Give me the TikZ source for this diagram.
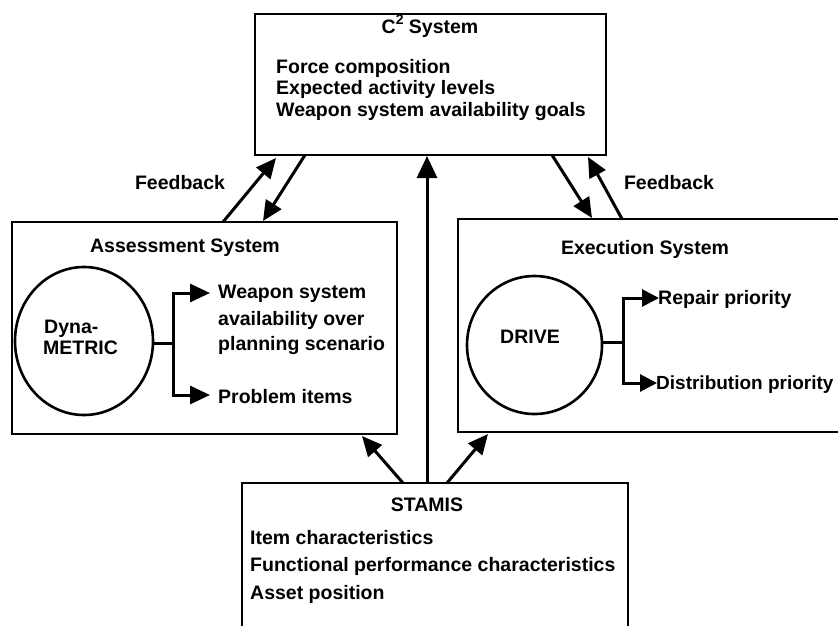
\documentclass[tikz,border=0pt]{standalone}
\usepackage{fontspec}
\setmainfont{Liberation Sans}
\usetikzlibrary{arrows.meta,shapes.geometric}
\begin{document}
\begin{tikzpicture}[x=1pt,y=-1pt,
  boxst/.style={draw, line width=2.6pt, inner sep=0pt},
  circst/.style={draw, ellipse, line width=2.6pt, inner sep=0pt},
  txt/.style={inner sep=0pt, font=\fontsize{19.5}{22}\selectfont\bfseries},
  lt/.style={txt, anchor=base west},
  ct/.style={txt, anchor=base},
  ln/.style={line width=3pt},
  arr/.style={line width=3pt, -{Triangle[length=20pt,width=18pt]}},
  sarr/.style={line width=3pt, -{Triangle[length=17pt,width=17pt]}},
  barr/.style={line width=3pt, -{Triangle[length=22pt,width=20pt]}}
]
\fill[white] (0,0) rectangle (838,625);
\useasboundingbox (0,0) rectangle (838,625);

% boxes
\node[boxst, minimum width=351pt, minimum height=141pt] (c2) at (430.5,84.5) {};
\node[boxst, minimum width=385pt, minimum height=212pt] (asmt) at (204.5,328) {};
\node[boxst, minimum width=392pt, minimum height=213pt] (exec) at (654,325.5) {};
\node[boxst, minimum width=386pt, minimum height=160pt] (stamis) at (435,563) {};

% C2 texts
\node[ct] (c2t) at (430,33) {C\raisebox{0.45em}{\fontsize{14}{14}\selectfont 2} System};
\node[lt] (c2a) at (276,73) {Force composition};
\node[lt] (c2b) at (276,94) {Expected activity levels};
\node[lt] (c2c) at (276,116) {Weapon system availability goals};

% feedback labels
\node[ct] (fbl) at (180,189) {Feedback};
\node[ct] (fbr) at (669,189) {Feedback};

% Assessment system
\node[ct] (asmtt) at (185,252) {Assessment System};
\node[circst, minimum width=138pt, minimum height=148pt] (dyna) at (84,341) {};
\node[lt] (dyna1) at (44,333) {Dyna-};
\node[lt] (dyna2) at (43,354) {METRIC};
\node[lt] (wsa1) at (218,298) {Weapon system};
\node[lt] (wsa2) at (218,325) {availability over};
\node[lt] (wsa3) at (218,350) {planning scenario};
\node[lt] (prob) at (218,403) {Problem items};
\coordinate (dj) at (173,343);
\coordinate (wtip) at (210,293);
\coordinate (ptip) at (210,395);
\draw[ln] (dyna.east |- dj) -- (dj);
\draw[arr] (dj) |- (wtip);
\draw[arr] (dj) |- (ptip);

% Execution system
\node[ct] (exect) at (645,254) {Execution System};
\node[circst, minimum width=135pt, minimum height=138pt] (drive) at (534.5,345) {};
\node[ct] (drivet) at (530,343) {DRIVE};
\node[lt] (rep) at (658,304) {Repair priority};
\node[lt, font=\fontsize{19}{22}\selectfont\bfseries] (dist) at (656,389) {Distribution priority};
\coordinate (ej) at (623,342);
\coordinate (rtip) at (659,298);
\coordinate (dtip) at (657,383);
\draw[ln] (drive.east |- ej) -- (ej);
\draw[sarr] (ej) |- (rtip);
\draw[sarr] (ej) |- (dtip);

% STAMIS
\node[ct] (stamist) at (427,511) {STAMIS};
\node[lt] (st1) at (250,544) {Item characteristics};
\node[lt] (st2) at (250,571) {Functional performance characteristics};
\node[lt] (st3) at (250,599) {Asset position};

% arrows between boxes
\coordinate (fla) at (223,222);
\coordinate (flb) at (276,158);
\coordinate (fld) at (305,155);
\coordinate (fle) at (263,221);
\coordinate (frd) at (552,155);
\coordinate (fre) at (592,218);
\coordinate (fra) at (622,219);
\coordinate (frb) at (588,157);
\coordinate (sc) at (427,483);
\coordinate (sct) at (427,156);
\coordinate (sla) at (403,483);
\coordinate (slb) at (362,436);
\coordinate (sra) at (447,483);
\coordinate (srb) at (488,434);

\draw[arr] (fla) -- (flb);
\draw[arr] (fld) -- (fle);
\draw[arr] (frd) -- (fre);
\draw[arr] (fra) -- (frb);
\draw[barr] (sc) -- (sct);
\draw[arr] (sla) -- (slb);
\draw[arr] (sra) -- (srb);
\end{tikzpicture}
\end{document}
